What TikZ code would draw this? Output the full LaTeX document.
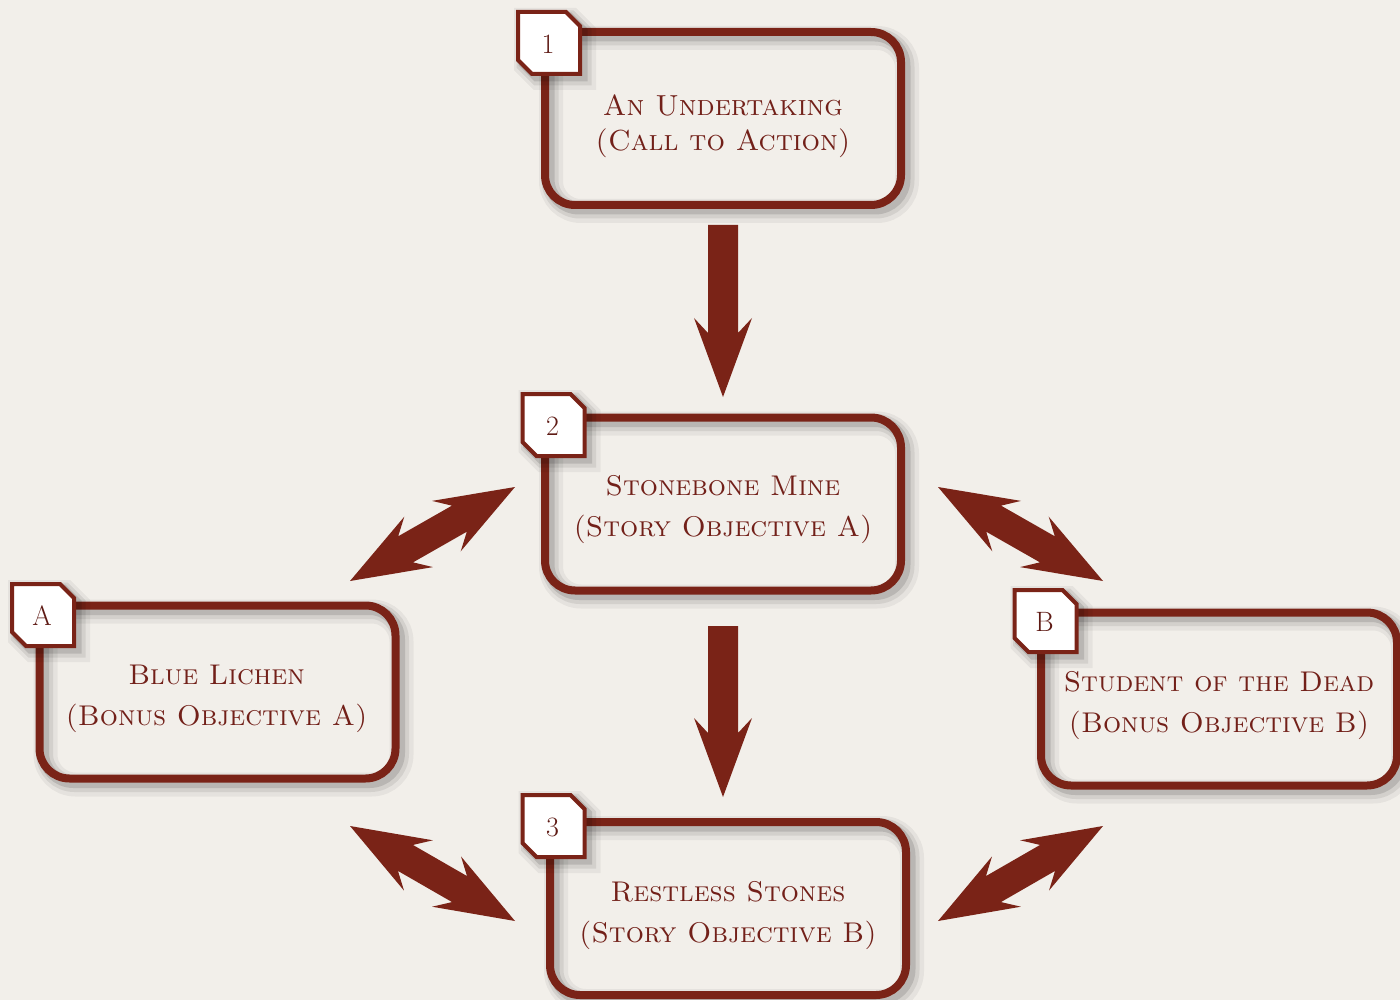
\documentclass[tikz,border=0pt]{standalone}
\usetikzlibrary{calc}
\definecolor{bgc}{HTML}{F2EFEA}
\definecolor{maroon}{HTML}{7A2317}
\definecolor{txtc}{HTML}{722019}
\definecolor{badgetxt}{HTML}{5E1A14}
\tikzset{
  shadowed/.style={
    preaction={draw=black, opacity=0.05, line width=#1+16pt, transform canvas={xshift=6pt,yshift=-6pt}},
    preaction={draw=black, opacity=0.08, line width=#1+9pt, transform canvas={xshift=5pt,yshift=-5pt}},
    preaction={draw=black, opacity=0.12, line width=#1+3pt, transform canvas={xshift=4pt,yshift=-4pt}}},
  box/.style={draw=maroon, line width=8pt, rounded corners=30pt, minimum width=356pt,
    minimum height=173pt, inner sep=0pt, shadowed=8pt},
  boxtext/.style={align=center, text=txtc, inner sep=0pt,
    font=\fontsize{28.5}{41}\selectfont\scshape},
  smallboxtext/.style={boxtext, font=\fontsize{29}{35}\selectfont\scshape},
  badgeshape/.style={draw=maroon, fill=white, line width=4pt, miter limit=10, shadowed=4pt},
  badgetext/.style={text=badgetxt, font=\fontsize{28}{28}\selectfont, inner sep=0pt},
  arrowfill/.style={fill=maroon}
}
\newcommand\mybadge[3]{%
  \coordinate (#1c) at (#2);
  \draw[badgeshape] ($(#1c)+(-31,-31)$) -- ($(#1c)+(17,-31)$) -- ($(#1c)+(31,-17)$)
    -- ($(#1c)+(31,31)$) -- ($(#1c)+(-17,31)$) -- ($(#1c)+(-31,17)$) -- cycle;
  \node[badgetext] (#1) at ($(#1c)+(-1,1)$) {#3};
}
\newcommand\sglarrow[2]{%
  \fill[arrowfill] ($(#1)!15pt!90:(#2)$) -- ($(#2)!64pt!(#1)!15pt!-90:(#1)$)
    -- ($(#2)!79pt!(#1)!29pt!-90:(#1)$) -- (#2) -- ($(#2)!79pt!(#1)!29pt!90:(#1)$)
    -- ($(#2)!64pt!(#1)!15pt!90:(#1)$) -- ($(#1)!15pt!-90:(#2)$) -- cycle;
}
\newcommand\dblarrow[2]{%
  \fill[arrowfill] (#1) -- ($(#1)!79pt!(#2)!29pt!90:(#2)$) -- ($(#1)!64pt!(#2)!15pt!90:(#2)$)
    -- ($(#2)!64pt!(#1)!15pt!-90:(#1)$) -- ($(#2)!79pt!(#1)!29pt!-90:(#1)$) -- (#2)
    -- ($(#2)!79pt!(#1)!29pt!90:(#1)$) -- ($(#2)!64pt!(#1)!15pt!90:(#1)$)
    -- ($(#1)!64pt!(#2)!15pt!-90:(#2)$) -- ($(#1)!79pt!(#2)!29pt!-90:(#2)$) -- cycle;
}
\begin{document}
\begin{tikzpicture}[x=1pt,y=-1pt]
\useasboundingbox (0,0) rectangle (1400,1000);
\fill[bgc] (0,0) rectangle (1400,1000);

% boxes
\node[box] (n1) at (723,118.5) {};
\node[box] (n2) at (723,504) {};
\node[box] (n3) at (728,908.5) {};
\node[box] (nA) at (217.5,692) {};
\node[box] (nB) at (1219,699) {};

% box texts
\node[smallboxtext] (t1) at ($(n1)+(0,8)$) {An Undertaking\\(Call to Action)};
\node[boxtext] (t2) at ($(n2)+(0,6)$) {Stonebone Mine\\(Story Objective A)};
\node[boxtext] (t3) at ($(n3)+(0,7)$) {Restless Stones\\(Story Objective B)};
\node[boxtext] (tA) at ($(nA)+(-1,7)$) {Blue Lichen\\(Bonus Objective A)};
\node[boxtext] (tB) at ($(nB)+(0,7)$) {Student of the Dead\\(Bonus Objective B)};

% badges
\mybadge{b1}{549,43}{1}
\mybadge{b2}{553.5,425}{2}
\mybadge{b3}{553.5,826}{3}
\mybadge{bA}{43,615}{A}
\mybadge{bB}{1045.5,621}{B}

% arrow end points
\coordinate (d1t) at (723,225);
\coordinate (d1h) at (723,397);
\coordinate (d2t) at (723,626);
\coordinate (d2h) at (723,797);
\coordinate (ulA) at (350,581);
\coordinate (ul2) at (515,487);
\coordinate (ur2) at (938,487);
\coordinate (urB) at (1103,581);
\coordinate (llA) at (350,826);
\coordinate (ll3) at (515,921);
\coordinate (lr3) at (938,921);
\coordinate (lrB) at (1103,826);

\sglarrow{d1t}{d1h}
\sglarrow{d2t}{d2h}
\dblarrow{ulA}{ul2}
\dblarrow{ur2}{urB}
\dblarrow{llA}{ll3}
\dblarrow{lr3}{lrB}
\end{tikzpicture}
\end{document}
